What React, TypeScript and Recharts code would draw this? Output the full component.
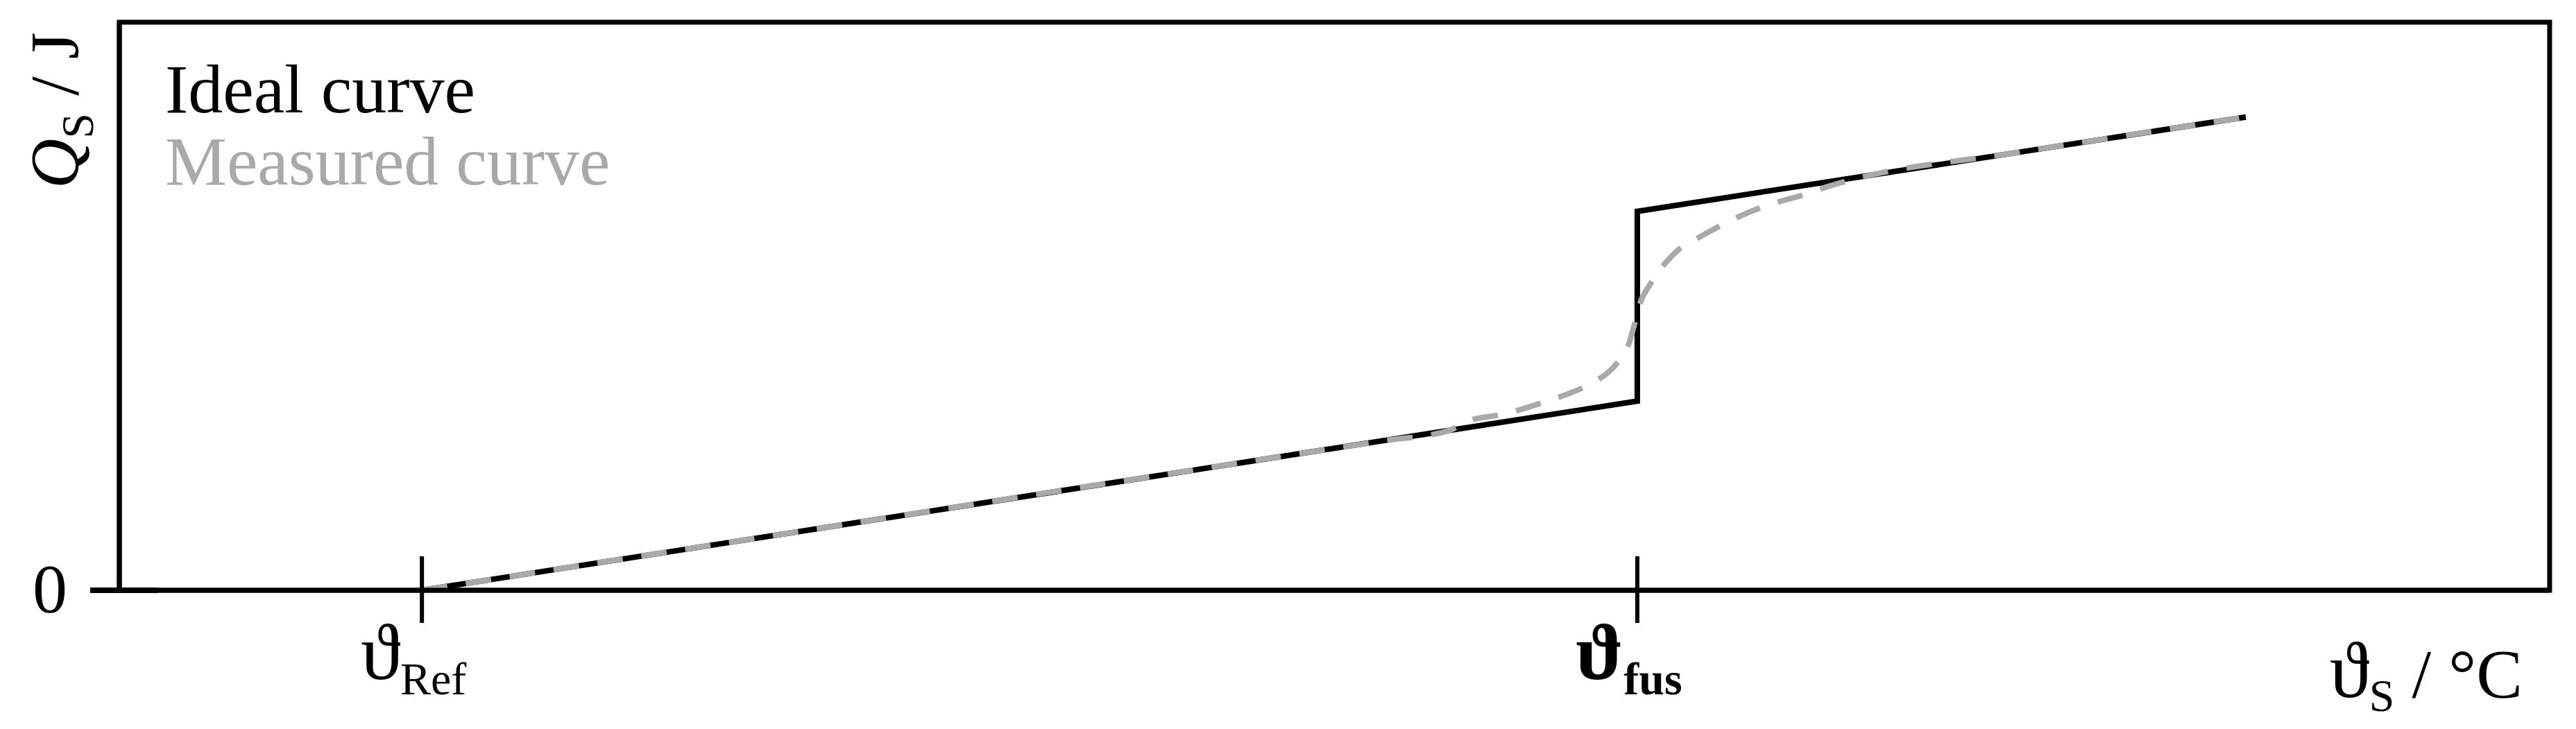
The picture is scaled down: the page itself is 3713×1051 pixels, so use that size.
import React from "react";
import {
  LineChart,
  Line,
  XAxis,
  YAxis,
  Legend,
  ReferenceArea,
  Label,
} from "recharts";

const SERIF = "'Liberation Serif', 'Times New Roman', serif";
const INK = "#000000";
const GREY = "#a9a9a9";

// temperatures on an arbitrary 0..100 scale
const THETA_REF = 12.45;
const THETA_FUS = 62.46;

// ideal curve: sensible heat, jump at melting point, sensible heat again
const IDEAL_T = [THETA_REF, THETA_FUS, THETA_FUS, 87.5];
const IDEAL_Q = [0, 33.3, 66.7, 83.3];

// measured curve: follows the ideal one, smeared around the phase change
const MEASURED_T = [
  THETA_REF, 30, 45, 52, 54.7, 55.5, 56.95, 58.75, 59.98, 60.83, 61.55, 62.09, 62.38,
  62.55, 62.98, 63.52, 64.17, 64.95, 65.8, 66.66, 67.51, 68.37, 69.23, 70.17, 71.6,
  78, 87.5,
];
const MEASURED_Q = [
  0, 11.7, 21.7, 26.3, 28.1, 29.8, 31.0, 33.3, 35.2, 37.0, 39.6, 43.1, 47.4,
  50.2, 53.8, 57.1, 60.0, 62.0, 64.0, 65.8, 67.3, 68.5, 69.5, 70.9, 72.6,
  77.0, 83.3,
];

const X_TICKS = [THETA_REF, THETA_FUS];
const X_TICK_LABELS = [
  { sym: "ϑ", sub: "Ref", bold: false },
  { sym: "ϑ", sub: "fus", bold: true },
];
const Y_TICKS = [0];

const idealData = IDEAL_T.map((t, i) => ({ t, q: IDEAL_Q[i] }));
const measuredData = MEASURED_T.map((t, i) => ({ t, q: MEASURED_Q[i] }));

function XTick(props: any) {
  const { x, y, index } = props;
  const lbl = X_TICK_LABELS[index] || X_TICK_LABELS[0];
  const weight = lbl.bold ? "bold" : "normal";
  return (
    <g>
      <line x1={x} y1={y - 49} x2={x} y2={y + 47} stroke={INK} strokeWidth={6} />
      <text
        x={x - 12}
        y={y + 128}
        textAnchor="middle"
        fontFamily={SERIF}
        fontSize={115}
        fontWeight={weight}
        fill={INK}
      >
        <tspan>{lbl.sym}</tspan>
        <tspan fontSize={66} dy={22}>{lbl.sub}</tspan>
      </text>
    </g>
  );
}

function YTick(props: any) {
  const { x, y, payload } = props;
  return (
    <g>
      <line x1={x - 42} y1={y} x2={x + 55} y2={y} stroke={INK} strokeWidth={8} />
      <text x={x - 100} y={y + 31} textAnchor="middle" fontFamily={SERIF} fontSize={100} fill={INK}>
        {payload.value}
      </text>
    </g>
  );
}

function XTitle(props: any) {
  const vb = props.viewBox;
  return (
    <text
      x={vb.x + vb.width - 39}
      y={vb.y + 154}
      textAnchor="end"
      fontFamily={SERIF}
      fontSize={100}
      fill={INK}
    >
      <tspan fontSize={115}>ϑ</tspan>
      <tspan fontSize={66} dy={20}>S</tspan>
      <tspan dy={-20}> / °C</tspan>
    </text>
  );
}

function YTitle(props: any) {
  const vb = props.viewBox;
  const bx = vb.x + 112;
  const by = vb.y + 240;
  return (
    <text
      x={bx}
      y={by}
      transform={`rotate(-90, ${bx}, ${by})`}
      textAnchor="start"
      fontFamily={SERIF}
      fontSize={100}
      fill={INK}
    >
      <tspan fontStyle="italic">Q</tspan>
      <tspan fontSize={66} dy={22}>S</tspan>
      <tspan dy={-22}> / J</tspan>
    </text>
  );
}

function LegendText(props: any) {
  const { payload } = props;
  return (
    <div style={{ fontFamily: SERIF, fontSize: 100, lineHeight: "104px", whiteSpace: "nowrap" }}>
      {(payload || []).map((entry: any) => (
        <div key={entry.value} style={{ color: entry.color }}>
          {entry.value}
        </div>
      ))}
    </div>
  );
}

export default function App() {
  return (
    <div>
      <style>{"body{margin:0;background:#fff}"}</style>
      <LineChart
        width={3713}
        height={1051}
        margin={{ top: 32, right: 38, left: 0, bottom: 0 }}
        style={{ background: "#fff" }}
      >
        <XAxis
          type="number"
          dataKey="t"
          domain={[0, 100]}
          ticks={X_TICKS}
          interval={0}
          height={200}
          tickSize={0}
          tickMargin={0}
          tickLine={false}
          axisLine={{ stroke: INK, strokeWidth: 7 }}
          tick={<XTick />}
        >
          <Label content={<XTitle />} />
        </XAxis>
        <YAxis
          type="number"
          domain={[0, 100]}
          ticks={Y_TICKS}
          width={172}
          tickSize={0}
          tickMargin={0}
          tickLine={false}
          axisLine={{ stroke: INK, strokeWidth: 7 }}
          tick={<YTick />}
        >
          <Label content={<YTitle />} />
        </YAxis>
        <ReferenceArea
          x1={0}
          x2={100}
          y1={0}
          y2={100}
          fill="none"
          fillOpacity={0}
          stroke={INK}
          strokeWidth={7}
          ifOverflow="visible"
        />
        <Legend
          layout="vertical"
          align="center"
          verticalAlign="middle"
          wrapperStyle={{ left: 238, top: 77, width: "auto" }}
          content={<LegendText />}
        />
        <Line
          data={idealData}
          dataKey="q"
          name="Ideal curve"
          type="linear"
          stroke={INK}
          strokeWidth={8}
          dot={false}
          activeDot={false}
          isAnimationActive={false}
        />
        <Line
          data={measuredData}
          dataKey="q"
          name="Measured curve"
          type="monotone"
          stroke={GREY}
          strokeWidth={8}
          strokeDasharray="37 27"
          dot={false}
          activeDot={false}
          isAnimationActive={false}
        />
      </LineChart>
    </div>
  );
}
